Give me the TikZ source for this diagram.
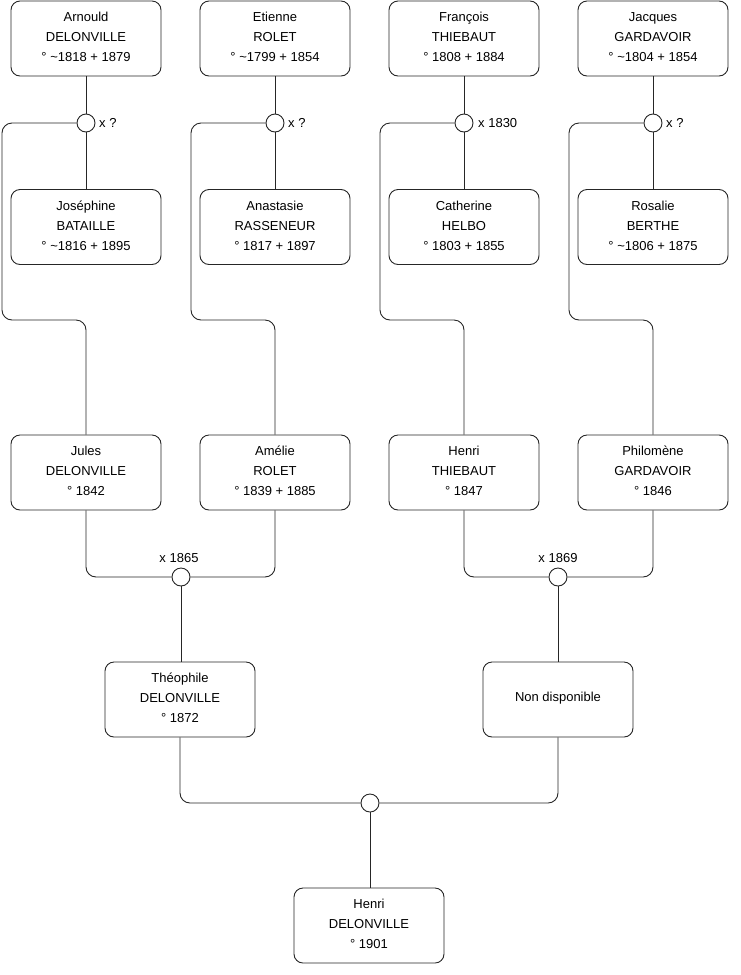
\documentclass[tikz,border=0pt]{standalone}
\usepackage{fontspec}
\setmainfont{Liberation Sans}
\newcommand\myperson[3]{\node[person] (#1) at (#2) {};\node[ptext] (#1t) at ([yshift=1.5pt]#1.center) {#3};}
\begin{document}
\begin{tikzpicture}[x=1pt,y=-1pt,
  person/.style={draw=black!85,line width=0.9pt,rounded corners=9pt,minimum width=150pt,minimum height=75pt,inner sep=0pt},
  ptext/.style={align=center,inner sep=0pt,font=\fontsize{13}{20}\selectfont},
  mar/.style={draw=black!85,line width=0.9pt,circle,fill=white,minimum size=18pt,inner sep=0pt},
  lnk/.style={draw=black!85,line width=0.9pt,rounded corners=10pt},
  lab/.style={font=\fontsize{13}{14}\selectfont,inner sep=0pt}]
\useasboundingbox (0,0) rectangle (740,975);
% top row
\myperson{p1}{86,38.5}{Arnould\\DELONVILLE\\° \textasciitilde1818 + 1879}
\myperson{p2}{275,38.5}{Etienne\\ROLET\\° \textasciitilde1799 + 1854}
\myperson{p3}{464,38.5}{François\\THIEBAUT\\° 1808 + 1884}
\myperson{p4}{653,38.5}{Jacques\\GARDAVOIR\\° \textasciitilde1804 + 1854}
% second row
\myperson{s1}{86,227}{Joséphine\\BATAILLE\\° \textasciitilde1816 + 1895}
\myperson{s2}{275,227}{Anastasie\\RASSENEUR\\° 1817 + 1897}
\myperson{s3}{464,227}{Catherine\\HELBO\\° 1803 + 1855}
\myperson{s4}{653,227}{Rosalie\\BERTHE\\° \textasciitilde1806 + 1875}
% third row
\myperson{c1}{86,472.5}{Jules\\DELONVILLE\\° 1842}
\myperson{c2}{275,472.5}{Amélie\\ROLET\\° 1839 + 1885}
\myperson{c3}{464,472.5}{Henri\\THIEBAUT\\° 1847}
\myperson{c4}{653,472.5}{Philomène\\GARDAVOIR\\° 1846}
% fourth row
\myperson{t1}{180,699.5}{Théophile\\DELONVILLE\\° 1872}
\myperson{t2}{558,699.5}{Non disponible}
% bottom
\myperson{h}{369,925.5}{Henri\\DELONVILLE\\° 1901}
% marriage circles
\node[mar] (m1) at (86,123) {};
\node[mar] (m2) at (275,123) {};
\node[mar] (m3) at (464,123) {};
\node[mar] (m4) at (653,123) {};
\node[mar] (mc1) at (181,577) {};
\node[mar] (mc2) at (558,577) {};
\node[mar] (mh) at (370,803) {};
% bend points
\coordinate (k1) at (2,320);
\coordinate (k2) at (191,320);
\coordinate (k3) at (380,320);
\coordinate (k4) at (569,320);
% connectors top
\foreach \i in {1,2,3,4}{
  \draw[lnk] (p\i) -- (m\i);
  \draw[lnk] (m\i) -- (s\i);
  \draw[lnk] (m\i.west) -| (k\i) -| (c\i.north);
}
% connectors middle
\draw[lnk] (c1.south) |- (mc1.west);
\draw[lnk] (c2.south) |- (mc1.east);
\draw[lnk] (mc1) -- (t1.north -| mc1);
\draw[lnk] (c3.south) |- (mc2.west);
\draw[lnk] (c4.south) |- (mc2.east);
\draw[lnk] (mc2) -- (t2);
\draw[lnk] (t1.south) |- (mh.west);
\draw[lnk] (t2.south) |- (mh.east);
\draw[lnk] (mh) -- (h.north -| mh);
% labels
\node[lab,anchor=west] (l1) at (99,123) {x ?};
\node[lab,anchor=west] (l2) at (288,123) {x ?};
\node[lab,anchor=west] (l3) at (478,123) {x 1830};
\node[lab,anchor=west] (l4) at (666,123) {x ?};
\node[lab] (l5) at (179,558) {x 1865};
\node[lab] (l6) at (558,558) {x 1869};
\end{tikzpicture}
\end{document}
